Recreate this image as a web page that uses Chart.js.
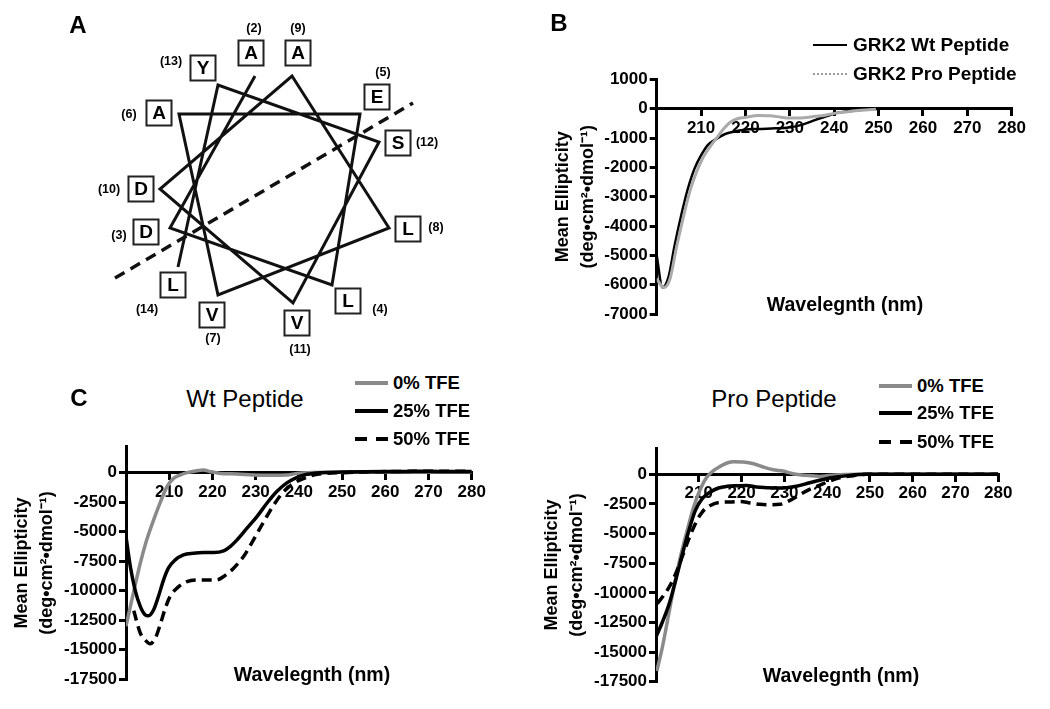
<!DOCTYPE html>
<html>
<head>
<meta charset="utf-8">
<script src="https://cdn.jsdelivr.net/npm/chart.js@4.4.1/dist/chart.umd.min.js"></script>
<style>
  body { margin: 0; background: #fff; font-family: "Liberation Sans", Arial, sans-serif; color: #000; }
  #page { position: relative; width: 1050px; height: 709px; overflow: hidden; }
  canvas { position: absolute; }
  .txt { position: absolute; white-space: nowrap; transform: translate(-50%, -50%); }
  .letter { font-weight: bold; font-size: 24px; }
  .ptitle { font-size: 24px; }
  .xtitle { font-weight: bold; font-size: 19.5px; }
  .leg { position: absolute; white-space: nowrap; transform: translateY(-50%); font-weight: bold; font-size: 18.5px; }
  .sw { position: absolute; }
</style>
</head>
<body>
<div id="page">
  <canvas id="wheel" width="480" height="370" style="left:0;top:0"></canvas>
  <canvas id="chartB" width="510" height="300" style="left:540px;top:30px"></canvas>
  <canvas id="chartWt" width="500" height="289" style="left:0;top:420px"></canvas>
  <canvas id="chartPro" width="520" height="289" style="left:530px;top:420px"></canvas>

  <div class="txt letter" style="left:78px;top:25px">A</div>
  <div class="txt letter" style="left:559px;top:23px">B</div>
  <div class="txt letter" style="left:79px;top:398px">C</div>

  <div class="txt ptitle" style="left:245px;top:399px">Wt Peptide</div>
  <div class="txt ptitle" style="left:774px;top:399px">Pro Peptide</div>

  <div class="txt xtitle" style="left:845px;top:304px">Wavelegnth (nm)</div>
  <div class="txt xtitle" style="left:312px;top:674px">Wavelegnth (nm)</div>
  <div class="txt xtitle" style="left:841px;top:675px">Wavelegnth (nm)</div>

  <!-- legend B -->
  <div class="sw" style="left:813px;top:44px;width:34px;border-top:2.5px solid #000"></div>
  <div class="leg" style="left:853px;top:45px;font-size:19px">GRK2 Wt Peptide</div>
  <div class="sw" style="left:813px;top:73px;width:34px;border-top:2px dotted #999"></div>
  <div class="leg" style="left:853px;top:74px;font-size:19px">GRK2 Pro Peptide</div>

  <!-- legend C left -->
  <div class="sw" style="left:355px;top:381px;width:33px;height:4px;background:#8a8a8a"></div>
  <div class="leg" style="left:393px;top:383px">0% TFE</div>
  <div class="sw" style="left:355px;top:409px;width:33px;height:4px;background:#000"></div>
  <div class="leg" style="left:393px;top:411px">25% TFE</div>
  <div class="sw" style="left:355px;top:437px;width:12px;height:4px;background:#000"></div>
  <div class="sw" style="left:376px;top:437px;width:12px;height:4px;background:#000"></div>
  <div class="leg" style="left:393px;top:439px">50% TFE</div>

  <!-- legend C right -->
  <div class="sw" style="left:879px;top:384px;width:33px;height:4px;background:#8a8a8a"></div>
  <div class="leg" style="left:917px;top:386px">0% TFE</div>
  <div class="sw" style="left:879px;top:411px;width:33px;height:4px;background:#000"></div>
  <div class="leg" style="left:917px;top:413px">25% TFE</div>
  <div class="sw" style="left:879px;top:440px;width:12px;height:4px;background:#000"></div>
  <div class="sw" style="left:900px;top:440px;width:12px;height:4px;background:#000"></div>
  <div class="leg" style="left:917px;top:442px">50% TFE</div>
</div>

<script>
/*******************************************************************************
 * DATA
 */

// helical wheel, residues 2..14 (wheel units, centre = 0,0)
const wheelRes = [2, 3, 4, 5, 6, 7, 8, 9, 10, 11, 12, 13, 14];
const wheelAA  = ['A', 'D', 'L', 'E', 'A', 'V', 'L', 'A', 'D', 'V', 'S', 'Y', 'L'];
const wheelX = [-20, -105, 57, 85, -96, -57, 114, 17, -115, 18, 104, -57, -97];
const wheelY = [114, -38, -95, 76, 76, -105, -38, 114, 1, -113, 48, 105, -77];
const boxX = [-24, -129, 73, 102, -116, -63, 133, 23, -134, 22, 123, -72, -102];
const boxY = [137, -42, -111, 93, 77, -125, -39, 137, 1, -133, 47, 122, -95];
const numX = [-21, -156, 105, 108, -146, -62, 161, 23, -166, 25, 152, -104, -128];
const numY = [161, -46, -120, 117, 75, -149, -38, 161, 0, -160, 47, 128, -120];
const splitX = [-160, 138];
const splitY = [-88, 87];

// tick labels
const xTicks  = [200, 210, 220, 230, 240, 250, 260, 270, 280];
const yTicksB = [1000, 0, -1000, -2000, -3000, -4000, -5000, -6000, -7000];
const yTicksC = [0, -2500, -5000, -7500, -10000, -12500, -15000, -17500];

// B: GRK2 peptides
const wlWt  = [200, 201.3, 202.7, 204, 205.5, 207, 208.5, 210, 211.5, 213, 215.3, 216.8, 219.8, 222.9, 226.7, 229.7, 232.7, 235.8, 238.8, 240.3, 243, 246, 250];
const wtVal = [-5000, -6100, -5720, -4690, -3650, -2740, -2050, -1590, -1240, -1070, -870, -800, -720, -690, -670, -640, -550, -380, -230, -150, -90, -40, 0];
const wlPro  = [200, 201.6, 203, 204.5, 206, 207.5, 209, 210.5, 212, 213.5, 215, 216.5, 218, 219.8, 222.9, 225.5, 228, 229.7, 232, 235.8, 238, 240.3, 242.5, 244.8, 247, 249.4];
const proVal = [-5800, -6100, -5800, -4700, -3700, -2800, -2150, -1650, -1300, -1000, -700, -470, -350, -300, -230, -240, -290, -320, -320, -260, -220, -150, -110, -70, -40, -20];

// C left: Wt peptide in TFE
const wlWt0  = [200, 201.7, 203.3, 204.8, 206.4, 208, 209.5, 211, 212.5, 214.1, 216.4, 217.9, 219.5, 221.8, 225.7, 229.5, 233.4, 237.3, 239.6, 242, 250, 260, 270, 280];
const wt0    = [-13000, -10200, -7670, -5690, -4000, -2450, -1180, -480, -200, 0, 170, 225, 85, -60, -110, -200, -220, -200, -60, 0, 30, 50, 60, 50];
const wlWt25 = [200, 201, 202.1, 203.3, 204.4, 205.2, 206.4, 207.5, 208.7, 209.8, 211.4, 213.3, 215.6, 218, 220.3, 222.6, 224.1, 225.7, 228, 230.3, 232.6, 234.9, 237.3, 239.6, 241.9, 245, 250, 255, 260, 265, 270, 275, 280];
const wt25   = [-5400, -7950, -9920, -11330, -12030, -12120, -11610, -10490, -9075, -8090, -7385, -6960, -6820, -6760, -6760, -6620, -6260, -5690, -4700, -3720, -2590, -1600, -845, -395, -140, 0, 50, 80, 100, 110, 120, 100, 100];
const wlWt50 = [201.8, 203.3, 204.4, 205.6, 206.8, 207.9, 209.1, 210.2, 211.8, 214.1, 216.4, 218.7, 221, 222.6, 224.9, 227.2, 229.5, 231.9, 234.2, 236.5, 238.8, 241.2, 243.4, 246.5, 250, 255, 260, 265, 270, 275, 280];
const wt50   = [-11700, -13580, -14150, -14490, -14000, -12880, -11470, -10490, -9780, -9220, -9080, -9080, -9080, -8790, -8090, -7100, -5690, -4140, -2730, -1600, -900, -480, -200, -60, 0, 60, 90, 110, 120, 130, 100];

// C right: Pro peptide in TFE
const wlPro0  = [200.2, 201.5, 202.7, 204.2, 205.7, 207.3, 208.8, 210.4, 211.9, 213.5, 215, 216.6, 218.1, 220.4, 222.8, 225.1, 227.4, 229.7, 232, 235.1, 238.2, 240.2, 243, 250, 260, 270, 280];
const pro0    = [-16600, -14570, -12320, -9500, -6970, -4720, -2760, -1210, -225, 340, 675, 960, 1070, 1040, 900, 620, 390, 280, 55, -85, -170, -100, -30, 0, 0, 30, 0];
const wlPro25 = [200, 201.5, 203.1, 204.6, 206.1, 207.7, 209.2, 210.8, 212.7, 214.6, 216.6, 218.9, 221.2, 223.5, 225.9, 228.2, 230.5, 232.8, 235.1, 237.5, 239.8, 242.1, 245.2, 249.1, 260, 270, 280];
const pro25   = [-13720, -12460, -10910, -8940, -6830, -4720, -3040, -2050, -1490, -1150, -1010, -960, -930, -1070, -1120, -1150, -1120, -1010, -790, -560, -370, -225, -85, 0, 0, 20, 0];
const wlPro50 = [200.3, 201.5, 203.1, 204.6, 206.1, 207.7, 209.2, 210.8, 212.7, 215, 217.3, 219.7, 222, 224.3, 226.6, 229, 231.3, 233.6, 235.9, 238.2, 240.6, 242.9, 246, 249.1, 260, 270, 280];
const pro50   = [-10910, -10350, -9500, -8380, -6970, -5430, -4160, -3180, -2620, -2360, -2330, -2280, -2420, -2530, -2560, -2530, -2190, -1720, -1270, -930, -560, -280, -110, 0, 0, 20, 0];

/*******************************************************************************
 * HELPERS
 */

Chart.defaults.font.family = '"Liberation Sans", Arial, sans-serif';
Chart.defaults.color = '#000';

const toXY = (xs, ys) => xs.map((x, i) => ({ x: x, y: ys[i] }));

const tickFont = { size: 17, weight: 'bold' };

function renderCDChart(id, series, yTicks, yMin, yMax, box) {
  new Chart(document.getElementById(id), {
    type: 'line',
    data: {
      datasets: series.map(s => ({
        label: s.label,
        data: toXY(s.x, s.y),
        borderColor: s.color,
        borderWidth: s.width,
        borderDash: s.dash || [],
        pointRadius: 0,
        cubicInterpolationMode: 'monotone',
        fill: false,
      })),
    },
    options: {
      responsive: false,
      animation: false,
      events: [],
      devicePixelRatio: 1,
      layout: { padding: box.padding, autoPadding: false },
      plugins: { legend: { display: false }, tooltip: { enabled: false } },
      scales: {
        x: {
          type: 'linear',
          min: 200,
          max: 280,
          position: { y: 0 },
          afterFit: s => { s.height = 0; },
          afterBuildTicks: s => { s.ticks = xTicks.map(v => ({ value: v })); },
          grid: { drawOnChartArea: false, tickLength: 6, lineWidth: 3, color: '#000' },
          border: { width: 3, color: '#000' },
          ticks: {
            padding: 3,
            autoSkip: false,
            maxRotation: 0,
            font: tickFont,
            callback: v => (v === 200 ? '' : String(v)),
          },
        },
        y: {
          type: 'linear',
          min: yMin,
          max: yMax,
          afterFit: s => { s.width = box.yWidth; },
          afterBuildTicks: s => { s.ticks = yTicks.map(v => ({ value: v })); },
          grid: { drawOnChartArea: false, tickLength: 7, lineWidth: 3, color: '#000' },
          border: { width: 3, color: '#000' },
          ticks: { padding: 2, autoSkip: false, font: tickFont, callback: v => String(v) },
          title: {
            display: true,
            text: ['Mean Ellipticity', '(deg\u2022cm\u00B2\u2022dmol\u207B\u00B9)'],
            font: { size: 18, weight: 'bold', lineHeight: '25px' },
            padding: { top: box.titlePad, bottom: 0 },
          },
        },
      },
    },
  });
}

/*******************************************************************************
 * A: HELICAL WHEEL
 */

const residueLabels = {
  id: 'residueLabels',
  afterDatasetsDraw(chart) {
    const { ctx, scales } = chart;
    const boxes = chart.getDatasetMeta(2).data;
    ctx.save();
    ctx.fillStyle = '#000';
    ctx.textAlign = 'center';
    ctx.textBaseline = 'middle';
    ctx.font = 'bold 19px "Liberation Sans"';
    boxes.forEach((pt, i) => ctx.fillText(wheelAA[i], pt.x, pt.y + 1));
    ctx.font = 'bold 12.5px "Liberation Sans"';
    wheelRes.forEach((r, i) => {
      ctx.fillText('(' + r + ')', scales.x.getPixelForValue(numX[i]), scales.y.getPixelForValue(numY[i]));
    });
    ctx.restore();
  },
};

new Chart(document.getElementById('wheel'), {
  type: 'scatter',
  data: {
    datasets: [
      { data: toXY(wheelX, wheelY), showLine: true, borderColor: '#111', borderWidth: 3, pointRadius: 0 },
      { data: toXY(splitX, splitY), showLine: true, borderColor: '#111', borderWidth: 3.5, borderDash: [11, 7], pointRadius: 0 },
      { data: toXY(boxX, boxY), pointStyle: 'rect', pointRadius: 17.7, backgroundColor: '#fff', borderColor: '#222', borderWidth: 2 },
    ],
  },
  options: {
    responsive: false,
    animation: false,
    events: [],
    devicePixelRatio: 1,
    layout: { padding: 0, autoPadding: false },
    plugins: { legend: { display: false }, tooltip: { enabled: false } },
    scales: {
      x: { type: 'linear', display: false, min: -275, max: 205 },
      y: { type: 'linear', display: false, min: -180, max: 190 },
    },
  },
  plugins: [residueLabels],
});

/*******************************************************************************
 * B / C: CD SPECTRA
 */

renderCDChart('chartB', [
  { label: 'GRK2 Pro Peptide', x: wlPro, y: proVal, color: '#aaaaaa', width: 3 },
  { label: 'GRK2 Wt Peptide', x: wlWt, y: wtVal, color: '#000', width: 2.5 },
], yTicksB, -7000, 1000, { yWidth: 116.7, titlePad: 10.5, padding: { left: 0, right: 38.3, top: 49.4, bottom: 16 } });

renderCDChart('chartWt', [
  { label: '25% TFE', x: wlWt25, y: wt25, color: '#000', width: 3.5 },
  { label: '50% TFE', x: wlWt50, y: wt50, color: '#000', width: 3.5, dash: [10, 6] },
  { label: '0% TFE', x: wlWt0, y: wt0, color: '#8a8a8a', width: 3.5 },
], yTicksC, -17500, 2200, { yWidth: 126, titlePad: 9.2, padding: { left: 0, right: 28.3, top: 26.7, bottom: 29.7 } });

renderCDChart('chartPro', [
  { label: '25% TFE', x: wlPro25, y: pro25, color: '#000', width: 3.5 },
  { label: '50% TFE', x: wlPro50, y: pro50, color: '#000', width: 3.5, dash: [10, 6] },
  { label: '0% TFE', x: wlPro0, y: pro0, color: '#8a8a8a', width: 3.5 },
], yTicksC, -17500, 2200, { yWidth: 126, titlePad: 9.2, padding: { left: 0, right: 51.7, top: 28.3, bottom: 27.3 } });
</script>
</body>
</html>
